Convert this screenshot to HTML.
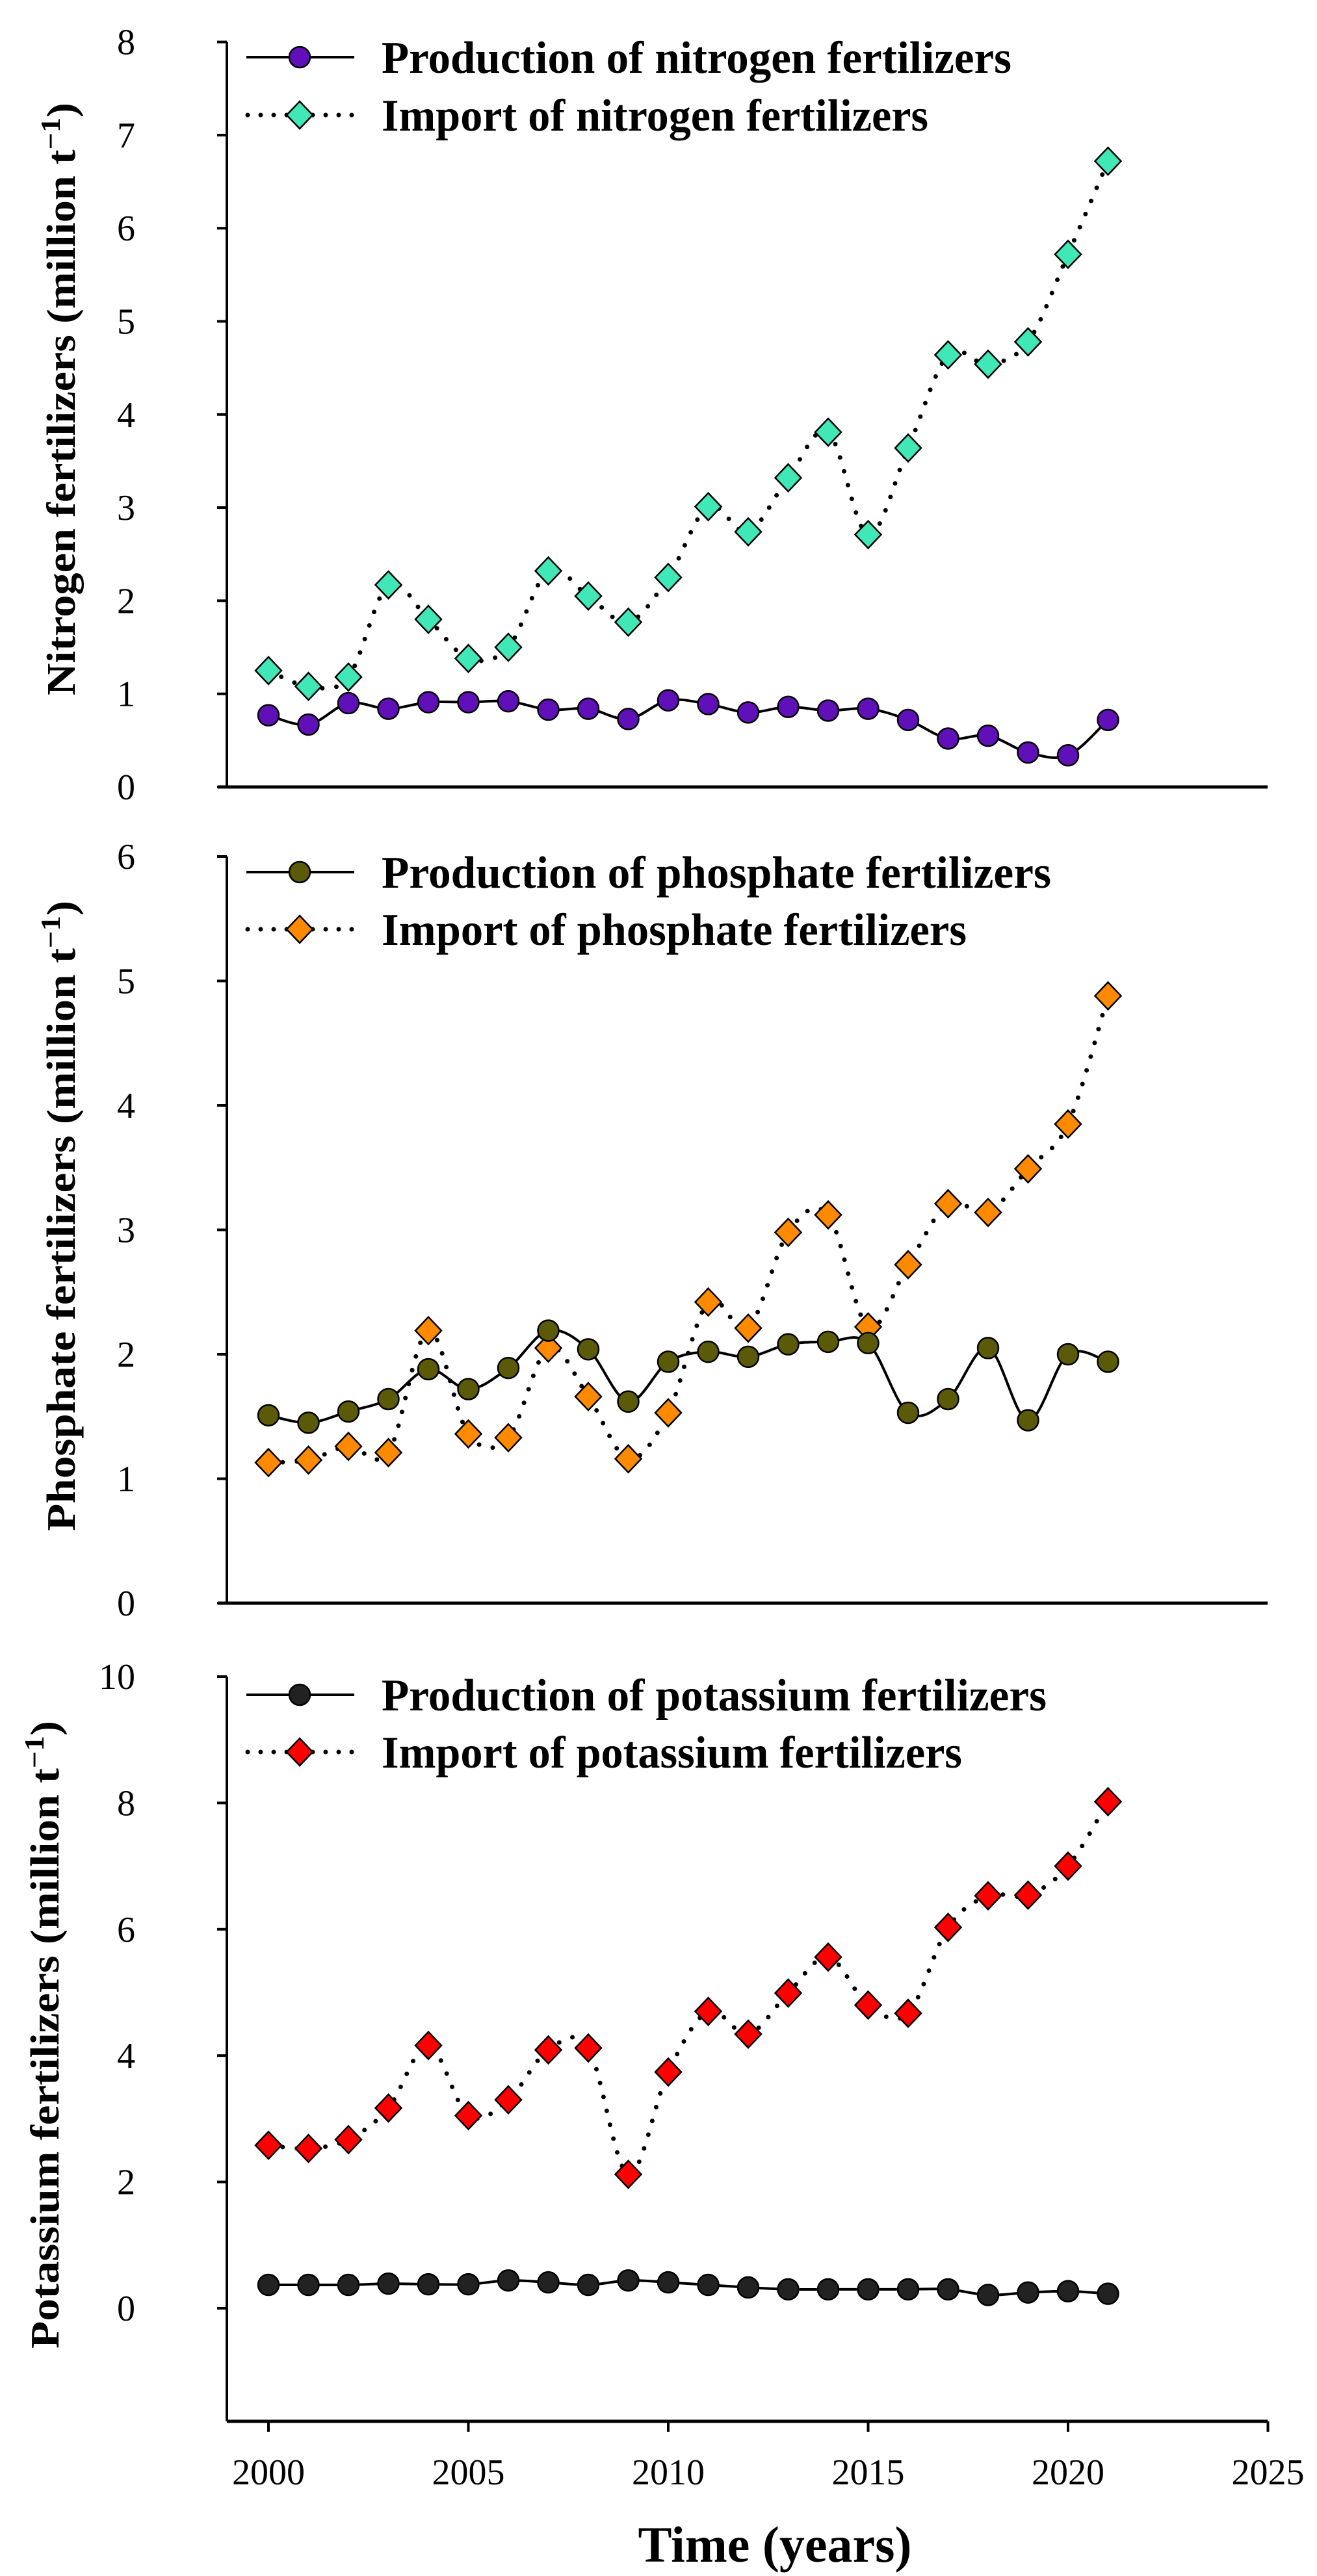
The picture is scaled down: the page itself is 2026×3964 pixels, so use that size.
<!DOCTYPE html>
<html><head><meta charset="utf-8"><style>
html,body{margin:0;padding:0;background:#fff;}
svg{display:block;}
text{font-family:"Liberation Serif",serif;fill:#000;}
.tick{font-size:56px;}
.leg{font-size:70px;font-weight:bold;}
.ytitle{font-size:62px;font-weight:bold;}
</style></head><body>
<svg id="chart" width="2026" height="3964" viewBox="0 0 2026 3964" xmlns="http://www.w3.org/2000/svg"></svg>
<script>
const years = [2000,2001,2002,2003,2004,2005,2006,2007,2008,2009,2010,2011,2012,2013,2014,2015,2016,2017,2018,2019,2020,2021];
const nProduction = [0.77,0.67,0.90,0.84,0.91,0.91,0.92,0.83,0.84,0.73,0.93,0.89,0.80,0.86,0.82,0.84,0.72,0.52,0.55,0.37,0.34,0.72];
const nImport = [1.25,1.08,1.18,2.17,1.80,1.38,1.50,2.32,2.05,1.77,2.25,3.01,2.74,3.32,3.81,2.71,3.64,4.64,4.54,4.78,5.72,6.72];
const pProduction = [1.51,1.45,1.54,1.64,1.88,1.72,1.89,2.19,2.04,1.62,1.94,2.02,1.98,2.08,2.10,2.09,1.53,1.64,2.05,1.47,2.00,1.94];
const pImport = [1.13,1.15,1.26,1.21,2.19,1.36,1.33,2.05,1.66,1.16,1.53,2.42,2.21,2.98,3.12,2.22,2.72,3.21,3.14,3.49,3.85,4.88];
const kProduction = [0.37,0.37,0.37,0.39,0.38,0.38,0.44,0.41,0.37,0.44,0.41,0.37,0.33,0.30,0.30,0.30,0.30,0.30,0.21,0.25,0.27,0.23];
const kImport = [2.58,2.53,2.67,3.17,4.16,3.05,3.30,4.09,4.12,2.12,3.74,4.70,4.34,4.99,5.56,4.80,4.67,6.03,6.53,6.54,7.00,8.02];
const nTicks = [0,1,2,3,4,5,6,7,8];
const pTicks = [0,1,2,3,4,5,6];
const kTicks = [0,2,4,6,8,10];
const xTicks = [2000,2005,2010,2015,2020,2025];

const NS="http://www.w3.org/2000/svg";
const svg=document.getElementById('chart');
function mk(tag,attrs,parent){const e=document.createElementNS(NS,tag);for(const k in attrs)e.setAttribute(k,attrs[k]);(parent||svg).appendChild(e);return e;}
const X=y=>413+(y-2000)*61.5;
function spline(pts){
  let d=`M${pts[0][0]},${pts[0][1]}`;
  for(let i=0;i<pts.length-1;i++){
    const p0=pts[Math.max(0,i-1)],p1=pts[i],p2=pts[i+1],p3=pts[Math.min(pts.length-1,i+2)];
    const c1=[p1[0]+(p2[0]-p0[0])/6,p1[1]+(p2[1]-p0[1])/6];
    const c2=[p2[0]-(p3[0]-p1[0])/6,p2[1]-(p3[1]-p1[1])/6];
    d+=` C${c1[0]},${c1[1]} ${c2[0]},${c2[1]} ${p2[0]},${p2[1]}`;
  }
  return d;
}
function diamond(g,cx,cy,fill){
  const el=mk('path',{d:`M${cx},${cy-21} L${cx+20},${cy} L${cx},${cy+21} L${cx-20},${cy} Z`,fill:fill,stroke:'#000','stroke-width':2.5},g);
  
  
}
function circle(g,cx,cy,fill){
  const el=mk('circle',{cx:cx,cy:cy,r:16,fill:fill,stroke:'#000','stroke-width':2.5},g);
  
  
}
function panel(o){
  const Y=v=>o.y0-v*o.unit;
  const g=mk('g',{});
  
  
  const ya=mk('line',{x1:349,y1:Y(o.top),x2:349,y2:o.axisY,stroke:'#000','stroke-width':4},g);
  
  
  const xa=mk('line',{x1:o.xStart,y1:o.axisY,x2:1950,y2:o.axisY,stroke:'#000','stroke-width':5},g);
  
  
  o.ticks.forEach(t=>{
    const tk=mk('line',{x1:334,y1:Y(t),x2:349,y2:Y(t),stroke:'#000','stroke-width':4},g);
    
    
    const tl=mk('text',{x:208,y:Y(t)+19,'text-anchor':'end',class:'tick'},g);
    tl.textContent=t;
    
    
  });
  const yt=mk('text',{x:0,y:0,class:'ytitle','text-anchor':'middle',transform:`translate(${o.titleX},${o.titleY}) rotate(-90)`,textLength:o.titleLen,lengthAdjust:'spacingAndGlyphs'},g);
  
  
  yt.appendChild(document.createTextNode(o.title+' (million t'));
  const sup=mk('tspan',{'font-size':'42','baseline-shift':'super'},yt);
  sup.textContent='\u22121';
  const cl=mk('tspan',{},yt);cl.textContent=')';
  // lines
  const ip=years.map((y,i)=>[X(y),Y(o.imp[i])]);
  const pp=years.map((y,i)=>[X(y),Y(o.prod[i])]);
  const l1=mk('path',{d:spline(ip),fill:'none',stroke:'#000','stroke-width':7,'stroke-linecap':'round','stroke-dasharray':'0 22'},g);
  
  
  const l2=mk('path',{d:spline(pp),fill:'none',stroke:'#000','stroke-width':4},g);
  
  
  ip.forEach(p=>diamond(g,p[0],p[1],o.impColor));
  pp.forEach(p=>circle(g,p[0],p[1],o.prodColor));
  // legend
  const lg=mk('g',{},g);
  
  
  mk('line',{x1:379,y1:o.leg1,x2:545,y2:o.leg1,stroke:'#000','stroke-width':4},lg);
  circle(lg,461,o.leg1,o.prodColor);
  const t1=mk('text',{x:587,y:o.leg1+24,class:'leg',textLength:o.l1len,lengthAdjust:'spacingAndGlyphs'},lg);
  t1.textContent='Production of '+o.name+' fertilizers';
  
  
  mk('line',{x1:381,y1:o.leg2,x2:545,y2:o.leg2,stroke:'#000','stroke-width':7,'stroke-linecap':'round','stroke-dasharray':'0 20'},lg);
  diamond(lg,461,o.leg2,o.impColor);
  const t2=mk('text',{x:587,y:o.leg2+24,class:'leg',textLength:o.l2len,lengthAdjust:'spacingAndGlyphs'},lg);
  t2.textContent='Import of '+o.name+' fertilizers';
  
  
  return Y;
}
panel({name:'nitrogen',title:'Nitrogen fertilizers',y0:1211,unit:143.3,top:8,axisY:1211,xStart:335,ticks:nTicks,prod:nProduction,imp:nImport,prodColor:'#6010B8',impColor:'#40E8B8',leg1:88,leg2:177,l1len:969,l2len:841,titleX:115,titleY:614,titleLen:912});
panel({name:'phosphate',title:'Phosphate fertilizers',y0:2467,unit:191.5,top:6,axisY:2467,xStart:335,ticks:pTicks,prod:pProduction,imp:pImport,prodColor:'#5A5A08',impColor:'#FF8A00',leg1:1342,leg2:1430,l1len:1030,l2len:900,titleX:115,titleY:1871,titleLen:970});
panel({name:'potassium',title:'Potassium fertilizers',y0:3552,unit:97.2,top:10,axisY:3726,xStart:349,ticks:kTicks,prod:kProduction,imp:kImport,prodColor:'#222222',impColor:'#FF0000',leg1:2608,leg2:2696,l1len:1023,l2len:893,titleX:90,titleY:3131,titleLen:966});
xTicks.forEach(t=>{
  const tk=mk('line',{x1:X(t),y1:3726,x2:X(t),y2:3742,stroke:'#000','stroke-width':4});
  
  
  const tl=mk('text',{x:X(t),y:3823,'text-anchor':'middle',class:'tick'});
  tl.textContent=t;
  
  
});
const xt=mk('text',{x:1192,y:3942,'text-anchor':'middle','font-size':'78','font-weight':'bold'});
xt.textContent='Time (years)';


</script>
</body></html>
